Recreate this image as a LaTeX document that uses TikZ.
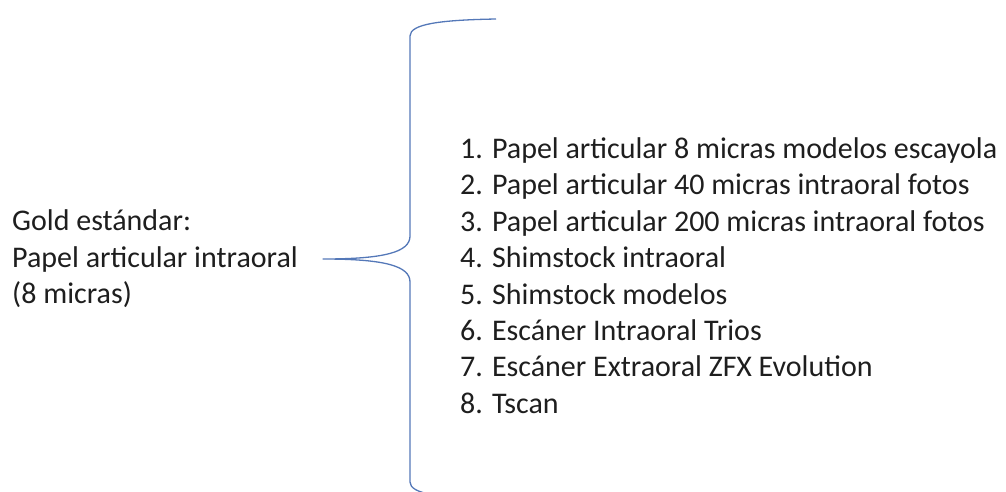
\documentclass[tikz,border=0pt]{standalone}
\usepackage{fontspec}
\setmainfont{Carlito}
\definecolor{bracecol}{RGB}{84,120,184}
\definecolor{txt}{RGB}{30,30,30}
\tikzset{
  lbl/.style={anchor=west, inner sep=0pt, align=left, text=txt,
    font=\fontsize{30}{36.4}\selectfont},
  bracestyle/.style={draw=bracecol, line width=1.3pt, line join=round}
}
\begin{document}
\begin{tikzpicture}[x=1pt, y=-1pt]
\useasboundingbox (0,0) rectangle (1006,491);
\clip (0,0) rectangle (1006,491);
\node[lbl] (gold) at (12,259) {Gold estándar:\\Papel articular intraoral\\(8 micras)};
\node[lbl] (list) at (460,275.5) {1. Papel articular 8 micras modelos escayola\\
2. Papel articular 40 micras intraoral fotos\\
3. Papel articular 200 micras intraoral fotos\\
4. Shimstock intraoral\\
5. Shimstock modelos\\
6. Escáner Intraoral Trios\\
7. Escáner Extraoral ZFX Evolution\\
8. Tscan};
\coordinate (tip) at (323,259);
\draw[bracestyle] (496,19) .. controls (440,20) and (410,24) .. (410,36)
  -- (410,236) .. controls (410,252) and (385,259) .. (tip)
  .. controls (385,259) and (410,266) .. (410,282)
  -- (410,482) .. controls (410,494) and (440,498) .. (496,499);
\end{tikzpicture}
\end{document}
